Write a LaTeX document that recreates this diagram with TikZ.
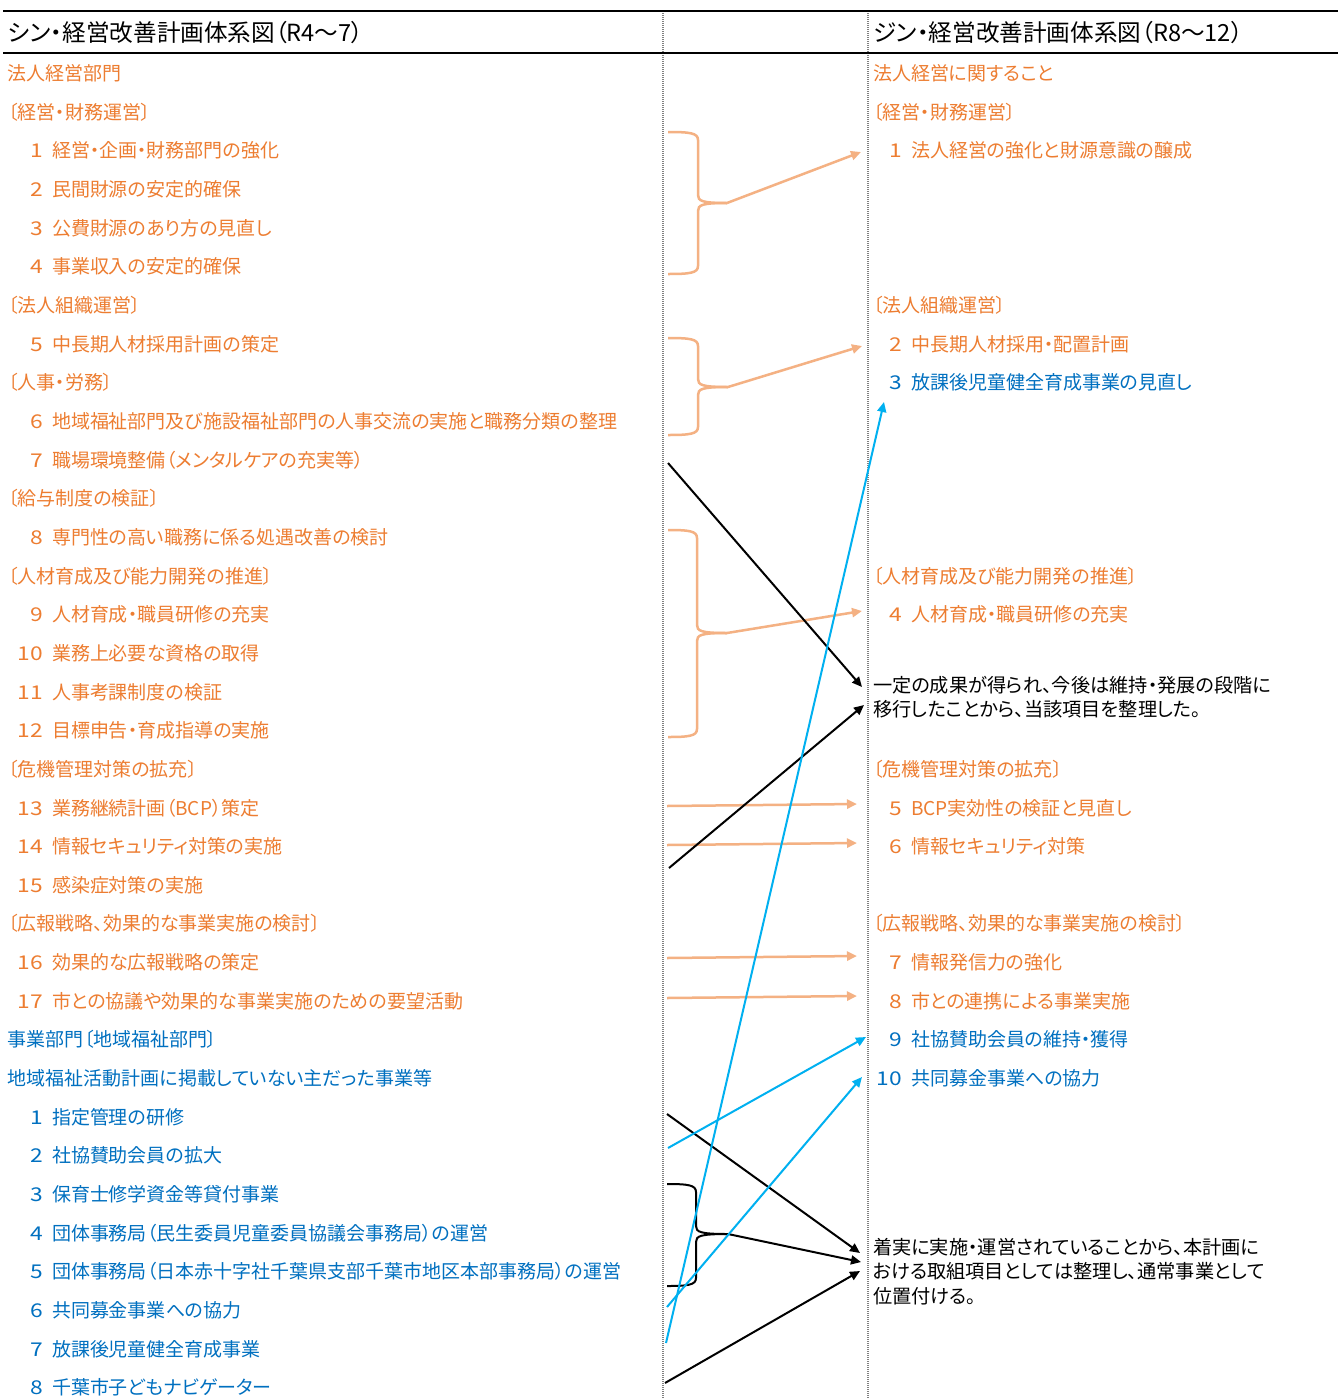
\documentclass[tikz,border=0pt]{standalone}
\usepackage{fontspec}
\usetikzlibrary{arrows.meta}
\newfontfamily\jpf[RawFeature=+palt]{Noto Sans CJK JP}
\definecolor{otext}{HTML}{ED7D31}
\definecolor{oline}{HTML}{F4B183}
\definecolor{btext}{HTML}{0070C0}
\definecolor{cline}{HTML}{00B0F0}
\definecolor{dgray}{HTML}{808080}
\newcommand\itemnum[1]{\llap{\scalebox{1.2}[1]{#1}\hspace{9pt}}}
\begin{document}
\begin{tikzpicture}[x=1pt,y=-1pt,
  every node/.style={inner sep=0pt, outer sep=0pt, anchor=west, font=\jpf\fontsize{19}{22}\selectfont},
  ot/.style={text=otext}, bt/.style={text=btext}, kt/.style={text=black},
  hd/.style={font=\jpf\fontsize{23.6}{26}\selectfont},
  note/.style={text=black, align=left, font=\jpf\fontsize{19.2}{24.5}\selectfont},
  rule/.style={line width=2.5pt, black},
  sep/.style={line width=1.3pt, dgray, dash pattern=on 1pt off 1pt},
  obrace/.style={draw=oline, line width=2.5pt},
  kbrace/.style={draw=black, line width=2pt},
  oarr/.style={draw=oline, line width=2.5pt, -{Triangle[length=10pt,width=9pt]}},
  karr/.style={draw=black, line width=2pt, -{Triangle[length=10pt,width=9pt]}},
  carr/.style={draw=cline, line width=2pt, -{Triangle[length=10pt,width=9pt]}},
]
\useasboundingbox[fill=white] (0,0) rectangle (1338,1398);
% rules and separators
\draw[sep] (663,11) -- (663,1398);
\draw[sep] (868,11) -- (868,1398);
\draw[rule] (3,11) -- (1338,11);
\draw[rule] (3,53) -- (1338,53);
% headers
\node[hd] (hL) at (8,33) {シン・経営改善計画体系図（R4～7）};
\node[hd] (hR) at (873,33) {ジン・経営改善計画体系図（R8～12）};
% left column
\node[ot] (l01) at (8,73) {法人経営部門};
\node[ot] (l02) at (8,112) {〔経営・財務運営〕};
\node[ot] (l03) at (52,150) {\itemnum{1}経営・企画・財務部門の強化};
\node[ot] (l04) at (52,189) {\itemnum{2}民間財源の安定的確保};
\node[ot] (l05) at (52,228) {\itemnum{3}公費財源のあり方の見直し};
\node[ot] (l06) at (52,266) {\itemnum{4}事業収入の安定的確保};
\node[ot] (l07) at (8,305) {〔法人組織運営〕};
\node[ot] (l08) at (52,344) {\itemnum{5}中長期人材採用計画の策定};
\node[ot] (l09) at (8,382) {〔人事・労務〕};
\node[ot] (l10) at (52,421) {\itemnum{6}地域福祉部門及び施設福祉部門の人事交流の実施と職務分類の整理};
\node[ot] (l11) at (52,460) {\itemnum{7}職場環境整備（メンタルケアの充実等）};
\node[ot] (l12) at (8,498) {〔給与制度の検証〕};
\node[ot] (l13) at (52,537) {\itemnum{8}専門性の高い職務に係る処遇改善の検討};
\node[ot] (l14) at (8,576) {〔人材育成及び能力開発の推進〕};
\node[ot] (l15) at (52,614) {\itemnum{9}人材育成・職員研修の充実};
\node[ot] (l16) at (52,653) {\itemnum{10}業務上必要な資格の取得};
\node[ot] (l17) at (52,692) {\itemnum{11}人事考課制度の検証};
\node[ot] (l18) at (52,730) {\itemnum{12}目標申告・育成指導の実施};
\node[ot] (l19) at (8,769) {〔危機管理対策の拡充〕};
\node[ot] (l20) at (52,808) {\itemnum{13}業務継続計画（BCP）策定};
\node[ot] (l21) at (52,846) {\itemnum{14}情報セキュリティ対策の実施};
\node[ot] (l22) at (52,885) {\itemnum{15}感染症対策の実施};
\node[ot] (l23) at (8,923) {〔広報戦略、効果的な事業実施の検討〕};
\node[ot] (l24) at (52,962) {\itemnum{16}効果的な広報戦略の策定};
\node[ot] (l25) at (52,1001) {\itemnum{17}市との協議や効果的な事業実施のための要望活動};
\node[bt] (l26) at (8,1039) {事業部門〔地域福祉部門〕};
\node[bt] (l27) at (8,1078) {地域福祉活動計画に掲載していない主だった事業等};
\node[bt] (l28) at (52,1117) {\itemnum{1}指定管理の研修};
\node[bt] (l29) at (52,1155) {\itemnum{2}社協賛助会員の拡大};
\node[bt] (l30) at (52,1194) {\itemnum{3}保育士修学資金等貸付事業};
\node[bt] (l31) at (52,1233) {\itemnum{4}団体事務局（民生委員児童委員協議会事務局）の運営};
\node[bt] (l32) at (52,1271) {\itemnum{5}団体事務局（日本赤十字社千葉県支部千葉市地区本部事務局）の運営};
\node[bt] (l33) at (52,1310) {\itemnum{6}共同募金事業への協力};
\node[bt] (l34) at (52,1349) {\itemnum{7}放課後児童健全育成事業};
\node[bt] (l35) at (52,1387) {\itemnum{8}千葉市子どもナビゲーター};
% right column
\node[ot] (r01) at (873,73) {法人経営に関すること};
\node[ot] (r02) at (873,112) {〔経営・財務運営〕};
\node[ot] (r03) at (911,150) {\itemnum{1}法人経営の強化と財源意識の醸成};
\node[ot] (r04) at (873,305) {〔法人組織運営〕};
\node[ot] (r05) at (911,344) {\itemnum{2}中長期人材採用・配置計画};
\node[bt] (r06) at (911,382) {\itemnum{3}放課後児童健全育成事業の見直し};
\node[ot] (r07) at (873,576) {〔人材育成及び能力開発の推進〕};
\node[ot] (r08) at (911,614) {\itemnum{4}人材育成・職員研修の充実};
\node[note] (n1) at (873,697) {一定の成果が得られ、今後は維持・発展の段階に\\移行したことから、当該項目を整理した。};
\node[ot] (r09) at (873,769) {〔危機管理対策の拡充〕};
\node[ot] (r10) at (911,808) {\itemnum{5}BCP実効性の検証と見直し};
\node[ot] (r11) at (911,846) {\itemnum{6}情報セキュリティ対策};
\node[ot] (r12) at (873,923) {〔広報戦略、効果的な事業実施の検討〕};
\node[ot] (r13) at (911,962) {\itemnum{7}情報発信力の強化};
\node[ot] (r14) at (911,1001) {\itemnum{8}市との連携による事業実施};
\node[bt] (r15) at (911,1039) {\itemnum{9}社協賛助会員の維持・獲得};
\node[bt] (r16) at (911,1078) {\itemnum{10}共同募金事業への協力};
\node[note] (n2) at (873,1271.5) {着実に実施・運営されていることから、本計画に\\おける取組項目としては整理し、通常事業として\\位置付ける。};
% braces
\draw[obrace] (668,132) .. controls (690,132) and (698,133) .. (698,140) -- (698,195) .. controls (698,201) and (702,203) .. (727,203);
\draw[obrace] (668,274) .. controls (690,274) and (698,273) .. (698,266) -- (698,211) .. controls (698,205) and (702,203) .. (727,203);
\coordinate (b1) at (727,203);
\draw[obrace] (668,338) .. controls (690,338) and (698,339) .. (698,346) -- (698,379) .. controls (698,385) and (702,387) .. (728,387);
\draw[obrace] (668,435) .. controls (690,435) and (698,434) .. (698,427) -- (698,395) .. controls (698,389) and (702,387) .. (728,387);
\coordinate (b2) at (728,387);
\draw[obrace] (668,530) .. controls (689,530) and (697,531) .. (697,538) -- (697,625) .. controls (697,631) and (701,633) .. (727,633);
\draw[obrace] (668,737) .. controls (689,737) and (697,736) .. (697,729) -- (697,641) .. controls (697,635) and (701,633) .. (727,633);
\coordinate (b3) at (727,633);
\draw[kbrace] (667,1184) .. controls (688,1184) and (696,1185) .. (696,1192) -- (696,1226) .. controls (696,1232) and (700,1234) .. (728,1234);
\draw[kbrace] (667,1286) .. controls (688,1286) and (696,1285) .. (696,1278) -- (696,1242) .. controls (696,1236) and (700,1234) .. (728,1234);
\coordinate (b4) at (728,1234);
% arrow end points
\coordinate (e1) at (861,152);
\coordinate (e2) at (862,346);
\coordinate (e3) at (862,611);
\coordinate (s4) at (667,806); \coordinate (e4) at (857,804);
\coordinate (s5) at (667,845); \coordinate (e5) at (857,843);
\coordinate (s6) at (667,958); \coordinate (e6) at (857,956);
\coordinate (s7) at (667,998); \coordinate (e7) at (857,996);
\coordinate (ks1) at (668,463); \coordinate (ke1) at (862,687);
\coordinate (ks2) at (669,868); \coordinate (ke2) at (864,705);
\coordinate (ks3) at (667,1114); \coordinate (ke3) at (860,1253);
\coordinate (ke4) at (861,1262);
\coordinate (ks5) at (665,1383); \coordinate (ke5) at (860,1271);
\coordinate (cs1) at (666,1343); \coordinate (ce1) at (884,402);
\coordinate (cs2) at (668,1148); \coordinate (ce2) at (866,1037);
\coordinate (cs3) at (667,1307); \coordinate (ce3) at (862,1077);
% orange arrows
\draw[oarr] (b1) -- (e1);
\draw[oarr] (b2) -- (e2);
\draw[oarr] (b3) -- (e3);
\draw[oarr] (s4) -- (e4);
\draw[oarr] (s5) -- (e5);
\draw[oarr] (s6) -- (e6);
\draw[oarr] (s7) -- (e7);
% black arrows
\draw[karr] (ks1) -- (ke1);
\draw[karr] (ks2) -- (ke2);
\draw[karr] (ks3) -- (ke3);
\draw[karr] (b4) -- (ke4);
\draw[karr] (ks5) -- (ke5);
% cyan arrows
\draw[carr] (cs1) -- (ce1);
\draw[carr] (cs2) -- (ce2);
\draw[carr] (cs3) -- (ce3);
\end{tikzpicture}
\end{document}
